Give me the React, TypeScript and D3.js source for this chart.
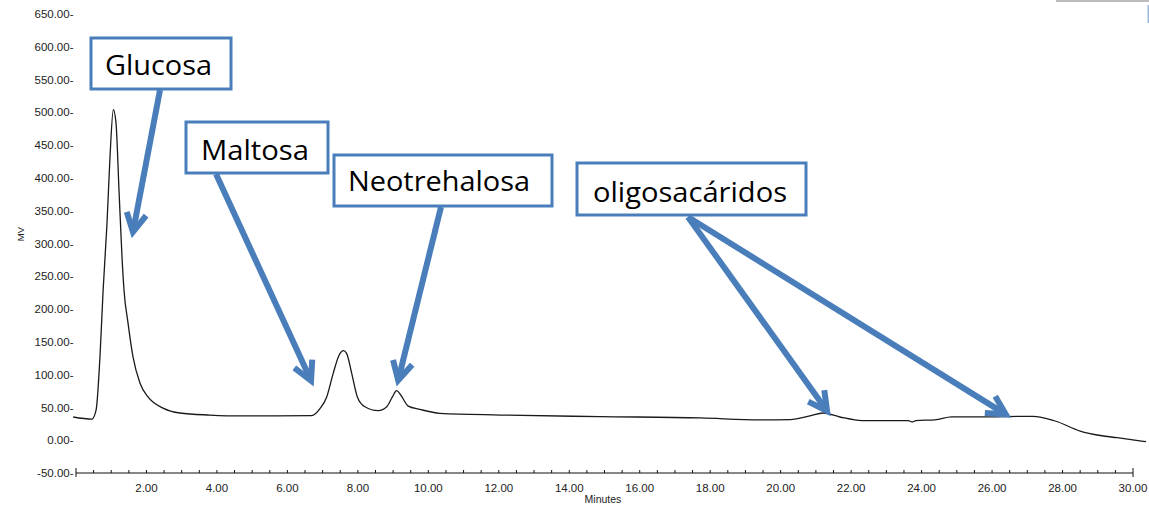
import React from "react";
import * as d3 from "d3";

// ---- data (minutes, mV) ----
const times: number[] = [
  -0.08, 0.45, 0.57, 0.68, 0.77, 0.88, 0.965, 1.06, 1.135, 1.22, 1.306, 1.362, 1.476, 1.618, 1.817,
  2.044, 2.47, 2.95, 3.8, 4.66, 6.69, 6.93, 7.116, 7.3, 7.47, 7.59, 7.68, 7.825, 7.985, 8.2, 8.58,
  8.82, 8.98, 9.1, 9.216, 9.43, 9.76, 10.33, 12.04, 14.87, 17.71, 19.42, 20.27, 20.83, 21.2, 21.68,
  22.31, 23.62, 23.73, 23.84, 24.38, 24.85, 25.6, 27.16, 27.79, 28.5, 29.07, 29.55, 30.37,
];
const signal: number[] = [
  35.4, 32.3, 46, 127, 229, 331, 432, 504, 484, 382, 279, 229, 179, 127, 87,
  66, 49, 41.5, 38.4, 37, 37.5, 48.6, 66, 102, 130, 136.5, 132.5, 102, 66, 51, 45,
  51, 66, 75.5, 69, 52, 47, 41, 38.4, 36, 34, 31, 31.5, 37, 41.5, 35.4,
  30, 30, 27.8, 30, 31, 35.5, 35.5, 36.5, 29.3, 14, 7.2, 3.8, -2.3,
];

const xTickValues: number[] = [2, 4, 6, 8, 10, 12, 14, 16, 18, 20, 22, 24, 26, 28, 30];
const yTickValues: number[] = [-50, 0, 50, 100, 150, 200, 250, 300, 350, 400, 450, 500, 550, 600, 650];

const labelTexts: string[] = ["Glucosa", "Maltosa", "Neotrehalosa", "oligosacáridos"];
// arrow tips in data coordinates [minutes, mV]
const arrowTips: [number, number][][] = [
  [[1.59, 310]],
  [[6.73, 84]],
  [[9.11, 84]],
  [[21.4, 38.4], [26.51, 35.4]],
];

// ---- layout ----
const W = 1149;
const H = 505;
const boxes = [
  { x: 91, y: 38, w: 140, h: 51, tx: 105, ty: 75, tw: 107, sx: 160, sy: 90 },
  { x: 186, y: 122, w: 142, h: 51, tx: 201, ty: 160, tw: 108, sx: 216, sy: 174 },
  { x: 334, y: 155, w: 218, h: 51, tx: 348, ty: 191, tw: 182, sx: 441, sy: 207 },
  { x: 577, y: 163, w: 229, h: 52, tx: 593, ty: 202, tw: 194, sx: 688, sy: 217 },
];
const BLUE = "#4A7EBB";

function arrowHead(sx: number, sy: number, tx: number, ty: number) {
  const dx = tx - sx;
  const dy = ty - sy;
  const len = Math.hypot(dx, dy);
  const ux = dx / len;
  const uy = dy / len;
  const vx = tx - ux * 5;
  const vy = ty - uy * 5;
  const ang = (28 * Math.PI) / 180;
  const L = 21;
  const bx = -ux;
  const by = -uy;
  const r1x = bx * Math.cos(ang) - by * Math.sin(ang);
  const r1y = bx * Math.sin(ang) + by * Math.cos(ang);
  const r2x = bx * Math.cos(-ang) - by * Math.sin(-ang);
  const r2y = bx * Math.sin(-ang) + by * Math.cos(-ang);
  return {
    shaft: `M${sx},${sy}L${vx},${vy}`,
    head: `M${vx + r1x * L},${vy + r1y * L}L${vx},${vy}L${vx + r2x * L},${vy + r2y * L}`,
  };
}

export default function App() {
  const x = d3.scaleLinear().domain([0, 30]).range([76, 1133]);
  const y = d3.scaleLinear().domain([-50, 650]).range([473, 14]);
  const pts = times.map((t, i) => [t, signal[i]] as [number, number]);
  const line = d3
    .line<[number, number]>()
    .x((d) => x(d[0]))
    .y((d) => y(d[1]))
    .curve(d3.curveMonotoneX);
  const minorTicks = d3.range(1, 60).map((i) => i * 0.5);
  const axisY = y(-50);
  const tickFont = "'Liberation Sans', Arial, sans-serif";

  return (
    <svg
      width={W}
      height={H}
      style={{ position: "absolute", left: 0, top: 0, background: "#fff" }}
    >
      <rect x={0} y={0} width={W} height={H} fill="#fff" />
      <rect x={1056} y={0} width={93} height={2} fill="#bdbdbd" />
      <rect x={1147.5} y={5} width={1.5} height={18} fill="#9db8dc" />

      {yTickValues.map((v) => (
        <text
          key={v}
          x={73.5}
          y={y(v)}
          dy="0.36em"
          textAnchor="end"
          fontFamily={tickFont}
          fontSize={11.5}
          fill="#222"
        >
          {v.toFixed(2) + "-"}
        </text>
      ))}
      <text
        transform={`translate(24,234) rotate(-90)`}
        textAnchor="middle"
        fontFamily={tickFont}
        fontSize={9.5}
        fill="#222"
      >
        MV
      </text>

      <line x1={x(0)} x2={x(30)} y1={axisY} y2={axisY} stroke="#111" strokeWidth={1} />
      <line x1={x(0)} x2={x(0)} y1={axisY - 5} y2={axisY + 4} stroke="#111" strokeWidth={1} />
      <line x1={x(30)} x2={x(30)} y1={axisY - 5} y2={axisY + 4} stroke="#111" strokeWidth={1} />
      {minorTicks.map((t) => (
        <line
          key={t}
          x1={x(t)}
          x2={x(t)}
          y1={axisY - 3}
          y2={axisY}
          stroke="#111"
          strokeWidth={1}
        />
      ))}
      {xTickValues.map((t) => (
        <text
          key={t}
          x={x(t)}
          y={492}
          textAnchor="middle"
          fontFamily={tickFont}
          fontSize={11.5}
          fill="#222"
        >
          {t.toFixed(2)}
        </text>
      ))}
      <text x={603} y={503} textAnchor="middle" fontFamily={tickFont} fontSize={10.5} fill="#222">
        Minutes
      </text>

      <path d={line(pts) || ""} fill="none" stroke="#1a1a1a" strokeWidth={1.3} />

      {boxes.map((b, i) => (
        <g key={labelTexts[i]}>
          {arrowTips[i].map((tip, j) => {
            const a = arrowHead(b.sx, b.sy, x(tip[0]), y(tip[1]));
            return (
              <g key={j} fill="none" stroke={BLUE} strokeWidth={6}>
                <path d={a.shaft} strokeLinecap="butt" />
                <path d={a.head} strokeLinejoin="miter" strokeLinecap="butt" />
              </g>
            );
          })}
          <rect x={b.x} y={b.y} width={b.w} height={b.h} fill="#fff" stroke={BLUE} strokeWidth={3} />
          <text
            x={b.tx}
            y={b.ty}
            fontFamily="'Open Sans', Lato, sans-serif"
            fontSize={28}
            textLength={b.tw}
            lengthAdjust="spacingAndGlyphs"
            fill="#000"
          >
            {labelTexts[i]}
          </text>
        </g>
      ))}
    </svg>
  );
}
